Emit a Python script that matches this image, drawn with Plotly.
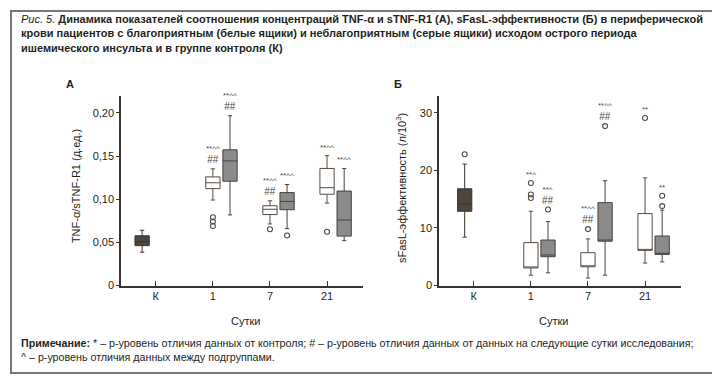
import plotly.graph_objects as go

# ---------------- data ----------------
categories = ["К", "1", "7", "21"]
days = ["1", "7", "21"]

# Panel A: TNF-a/sTNF-R1 (д.ед.)
a_tick_vals = [0, 0.05, 0.10, 0.15, 0.20]
a_tick_text = ["0", "0,05", "0,10", "0,15", "0,20"]
a_k_stats = dict(lowerfence=0.0386, q1=0.0462, median=0.0508, q3=0.0576, upperfence=0.064)
a_k_outliers = []
a_white_low = [0.099, 0.0713, 0.0955]
a_white_q1 = [0.1122, 0.0822, 0.1057]
a_white_med = [0.119, 0.0883, 0.1133]
a_white_q3 = [0.1258, 0.0924, 0.1356]
a_white_high = [0.1352, 0.0981, 0.1504]
a_white_out = [[0.079, 0.074, 0.069], [0.0651], [0.0622]]
a_grey_low = [0.0818, 0.0659, 0.0519]
a_grey_q1 = [0.1208, 0.0878, 0.0572]
a_grey_med = [0.1443, 0.0974, 0.0758]
a_grey_q3 = [0.1572, 0.1076, 0.1094]
a_grey_high = [0.1966, 0.117, 0.1356]
a_grey_out = [[], [0.058], []]
a_white_sig = [["**^^", "##"], ["**^^", "##"], ["**^^"]]
a_grey_sig = [["**^^", "##"], ["**^^"], ["**^^"]]

# Panel B: sFasL-эффективность (л/10^3)
b_tick_vals = [0, 10, 20, 30]
b_tick_text = ["0", "10", "20", "30"]
b_k_stats = dict(lowerfence=8.4, q1=12.9, median=14.2, q3=16.8, upperfence=21.1)
b_k_outliers = [22.8]
b_white_low = [1.8, 1.3, 3.9]
b_white_q1 = [3.05, 3.25, 6.1]
b_white_med = [3.1, 3.4, 6.2]
b_white_q3 = [7.45, 5.7, 12.5]
b_white_high = [12.9, 8.1, 18.7]
b_white_out = [[17.8, 15.8, 15.2], [9.8], [29.1]]
b_grey_low = [2.2, 1.8, 4.1]
b_grey_q1 = [5.0, 7.7, 5.4]
b_grey_med = [5.3, 7.9, 5.6]
b_grey_q3 = [7.9, 14.4, 8.6]
b_grey_high = [11.1, 18.2, 13.1]
b_grey_out = [[13.2], [27.7], [15.6, 13.8]]
b_white_sig = [["**^"], ["**^^", "##"], ["**"]]
b_grey_sig = [["**^", "##"], ["**^^", "##"], ["**"]]

# ---------------- styles ----------------
FONT = "Liberation Sans"
TXT = "#231f1c"
AX = "#3b342e"
BOXLINE = "#554b42"
K_FILL = "#4e453d"
GREY_FILL = "#8b8b8b"
SIG = "#4f463e"
W = 720
H = 376
BOX_W = 0.25
GREY_SHIFT = 0.30

fig = go.Figure()


def sig_text(lines):
    out = []
    for ln in lines:
        size = 10 if "#" in ln else 8
        out.append(f'<span style="font-size:{size}px">{ln}</span>')
    return "<br>".join(out)


def add_panel(xa, ya, k_shift, k_stats, k_out, wl, wq1, wm, wq3, wh, wout,
              gl, gq1, gm, gq3, gh, gout, wsig, gsig):
    day_idx = [categories.index(d) for d in days]
    k_pos = [categories.index("К") + k_shift]
    w_pos = [i for i in day_idx]
    g_pos = [i + GREY_SHIFT for i in day_idx]
    common = dict(xaxis=xa, yaxis=ya, width=BOX_W, whiskerwidth=0.3,
                  boxpoints=False, showlegend=False, hoverinfo="skip")
    fig.add_trace(go.Box(x=k_pos, q1=[k_stats["q1"]], median=[k_stats["median"]],
                         q3=[k_stats["q3"]], lowerfence=[k_stats["lowerfence"]],
                         upperfence=[k_stats["upperfence"]], fillcolor=K_FILL,
                         line=dict(color="#3a322c", width=1), **common))
    fig.add_trace(go.Box(x=w_pos, q1=wq1, median=wm, q3=wq3, lowerfence=wl,
                         upperfence=wh, fillcolor="white",
                         line=dict(color=BOXLINE, width=1), **common))
    fig.add_trace(go.Box(x=g_pos, q1=gq1, median=gm, q3=gq3, lowerfence=gl,
                         upperfence=gh, fillcolor=GREY_FILL,
                         line=dict(color="#4a4038", width=1), **common))
    ox, oy = [], []
    for p, vals in zip(k_pos + w_pos + g_pos, [k_out] + wout + gout):
        ox += [p] * len(vals)
        oy += vals
    fig.add_trace(go.Scatter(x=ox, y=oy, mode="markers", xaxis=xa, yaxis=ya,
                             marker=dict(symbol="circle-open", size=5,
                                         color=BOXLINE, line=dict(width=1.1)),
                             showlegend=False, hoverinfo="skip"))
    for pos, hi, outs, sig in list(zip(w_pos, wh, wout, wsig)) + list(zip(g_pos, gh, gout, gsig)):
        if not sig:
            continue
        top = max([hi] + outs)
        fig.add_annotation(x=pos, y=top, xref=xa, yref=ya, text=sig_text(sig),
                           showarrow=False, yanchor="bottom", yshift=2,
                           font=dict(family=FONT, size=9, color=SIG))


add_panel("x", "y", -0.24, a_k_stats, a_k_outliers, a_white_low, a_white_q1,
          a_white_med, a_white_q3, a_white_high, a_white_out, a_grey_low,
          a_grey_q1, a_grey_med, a_grey_q3, a_grey_high, a_grey_out,
          a_white_sig, a_grey_sig)
add_panel("x2", "y2", -0.16, b_k_stats, b_k_outliers, b_white_low, b_white_q1,
          b_white_med, b_white_q3, b_white_high, b_white_out, b_grey_low,
          b_grey_q1, b_grey_med, b_grey_q3, b_grey_high, b_grey_out,
          b_white_sig, b_grey_sig)

ydom = [1 - 282 / H, 1 - 89 / H]
xaxis_common = dict(range=[-0.61, 3.63], tickmode="array",
                    tickvals=list(range(len(categories))), ticktext=categories,
                    ticks="inside", ticklen=5, tickcolor=AX, tickwidth=1,
                    showline=True, linecolor=AX, linewidth=1.5,
                    showgrid=False, zeroline=False,
                    tickfont=dict(family=FONT, size=11, color=TXT))
yaxis_common = dict(ticks="outside", ticklen=3, tickcolor=AX, tickwidth=1,
                    showline=True, linecolor=AX, linewidth=1.5,
                    showgrid=False, zeroline=False, tickmode="array",
                    tickfont=dict(family=FONT, size=11, color=TXT), domain=ydom)

fig.update_layout(
    width=W, height=H, margin=dict(l=0, r=0, t=0, b=0),
    paper_bgcolor="white", plot_bgcolor="white",
    font=dict(family=FONT, color=TXT),
    boxmode="overlay",
    xaxis=dict(domain=[113 / W, 355 / W], anchor="y", **xaxis_common),
    yaxis=dict(range=[0, 0.22], tickvals=a_tick_vals, ticktext=a_tick_text,
               anchor="x", **yaxis_common),
    xaxis2=dict(domain=[431 / W, 673 / W], anchor="y2", **xaxis_common),
    yaxis2=dict(range=[0, 33], tickvals=b_tick_vals, ticktext=b_tick_text,
                anchor="x2", **yaxis_common),
)

# texts
title = ("<i>Рис. 5.</i> <b>Динамика показателей соотношения концентраций TNF-α и sTNF-R1 (А), "
         "sFasL-эффективности (Б) в периферической</b><br>"
         "<b>крови пациентов с благоприятным (белые ящики) и неблагоприятным (серые ящики) "
         "исходом острого периода</b><br>"
         "<b>ишемического инсульта и в группе контроля (К)</b>")
fig.add_annotation(x=11 / W, y=1 - 3 / H, xref="paper", yref="paper", text=title,
                   showarrow=False, xanchor="left", yanchor="top", align="left",
                   font=dict(family=FONT, size=11, color=TXT))
note = ("<b>Примечание:</b> * – р-уровень отличия данных от контроля; # – р-уровень отличия "
        "данных от данных на следующие сутки исследования;<br>"
        "^ – р-уровень отличия данных между подгруппами.")
fig.add_annotation(x=11 / W, y=1 - 332 / H, xref="paper", yref="paper", text=note,
                   showarrow=False, xanchor="left", yanchor="top", align="left",
                   font=dict(family=FONT, size=10.7, color=TXT))

for x, y, t, ang, bold in [
    (62, 77, "А", 0, True), (390, 77, "Б", 0, True),
    (237, 318, "Сутки", 0, False), (545, 318, "Сутки", 0, False),
    (68, 181, "TNF-α/sTNF-R1 (д.ед.)", -90, False),
    (393, 183, "sFasL-эффективность (л/10<sup>3</sup>)", -90, False),
]:
    fig.add_annotation(x=x / W, y=1 - y / H, xref="paper", yref="paper",
                       text=f"<b>{t}</b>" if bold else t, showarrow=False,
                       textangle=ang, xanchor="center", yanchor="middle",
                       font=dict(family=FONT, size=11, color=TXT))

fig.add_shape(type="rect", xref="paper", yref="paper", x0=3 / W, x1=717 / W,
              y0=1 - 371 / H, y1=1 - 3 / H, line=dict(color="#7d756e", width=2))

fig.write_html("out.html")
